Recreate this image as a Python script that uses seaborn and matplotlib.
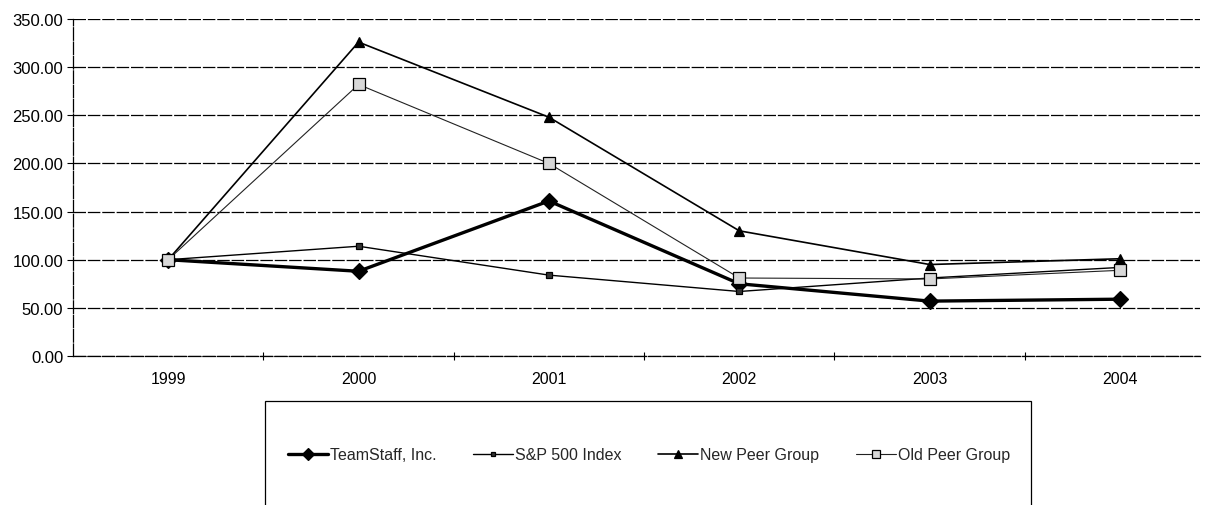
import matplotlib
matplotlib.use("Agg")
import matplotlib.pyplot as plt
import seaborn as sns
import pandas as pd
import numpy as np
from matplotlib.patches import Rectangle
from matplotlib.ticker import FormatStrFormatter, FixedLocator

years = ["1999", "2000", "2001", "2002", "2003", "2004"]
teamstaff = [100, 88, 161, 75, 57, 59]
sp500 = [100, 114, 84, 67, 81, 92]
new_peer = [100, 326, 248, 130, 95, 101]
old_peer = [100, 282, 200, 81, 80, 89]
series_names = ["TeamStaff, Inc.", "S&P 500 Index", "New Peer Group", "Old Peer Group"]
yticks = [0, 50, 100, 150, 200, 250, 300, 350]

sns.set_theme(style="white")
plt.rcParams['font.family'] = ['Liberation Sans', 'DejaVu Sans']

fig = plt.figure(figsize=(12.07, 5.06), dpi=100)
ax = fig.add_axes([73/1207, 1-357/506, 1127/1207, 337/506])

idx = np.arange(len(years))
df = pd.DataFrame({
    "x": np.tile(idx, 4),
    "value": teamstaff + sp500 + new_peer + old_peer,
    "series": np.repeat(series_names, len(years)),
})

styles = {
    "TeamStaff, Inc.": dict(lw=2.4, marker="D", ms=8, mfc="black", mec="black", color="black"),
    "S&P 500 Index": dict(lw=1.0, marker="s", ms=4, mfc="#333333", mec="black", color="black"),
    "New Peer Group": dict(lw=1.2, marker="^", ms=7, mfc="black", mec="black", color="black"),
    "Old Peer Group": dict(lw=0.8, marker="s", ms=8, mfc="#d8d8d8", mec="black", color="#222222"),
}

for name in series_names:
    st = styles[name]
    sub = df[df["series"] == name]
    sns.lineplot(data=sub, x="x", y="value", ax=ax, label=name,
                 color=st["color"], linewidth=st["lw"], marker=st["marker"],
                 markersize=st["ms"], markerfacecolor=st["mfc"],
                 markeredgecolor=st["mec"], markeredgewidth=0.9)

ax.set_xlim(-0.5, 5.42)
ax.set_ylim(0, 350)
ax.set_yticks(yticks)
ax.yaxis.set_major_formatter(FormatStrFormatter("%.2f"))
ax.set_xticks(idx)
ax.set_xticklabels(years)
ax.xaxis.set_minor_locator(FixedLocator(np.arange(0.5, 5.5, 1.0)))
ax.tick_params(axis="x", which="major", length=0, pad=11, labelsize=11.5, colors="black")
ax.tick_params(axis="x", which="minor", length=6, direction="inout", width=0.8, color="black", bottom=True)
ax.tick_params(axis="y", which="major", length=4, direction="out", width=0.8, left=True, labelsize=12, colors="black", pad=3)
ax.set_xlabel("")
ax.set_ylabel("")
ax.grid(axis="y", color="black", linewidth=0.9, linestyle=(0, (10, 1.5)))
ax.set_axisbelow(True)
for s in ["top", "right"]:
    ax.spines[s].set_visible(False)
for s in ["left", "bottom"]:
    ax.spines[s].set_color("black")
    ax.spines[s].set_linewidth(0.9)
    ax.spines[s].set_linestyle((0, (10, 1.5)))

handles, labels = ax.get_legend_handles_labels()
ax.get_legend().remove()

# Legend box (bottom edge runs off the figure)
fig.patches.append(Rectangle((265/1207, -0.05), (1031-265)/1207, 0.05 + (506-402)/506,
                             transform=fig.transFigure, fill=False, edgecolor="black",
                             linewidth=0.9, clip_on=False))
fig.legend(handles, labels, loc="center", bbox_to_anchor=(649/1207, 1-456/506),
           ncol=4, frameon=False, fontsize=11.5, handlelength=2.5, handletextpad=0.12,
           columnspacing=2.3, markerscale=0.8, borderpad=0, borderaxespad=0)

fig.savefig("out.png", dpi=100)
